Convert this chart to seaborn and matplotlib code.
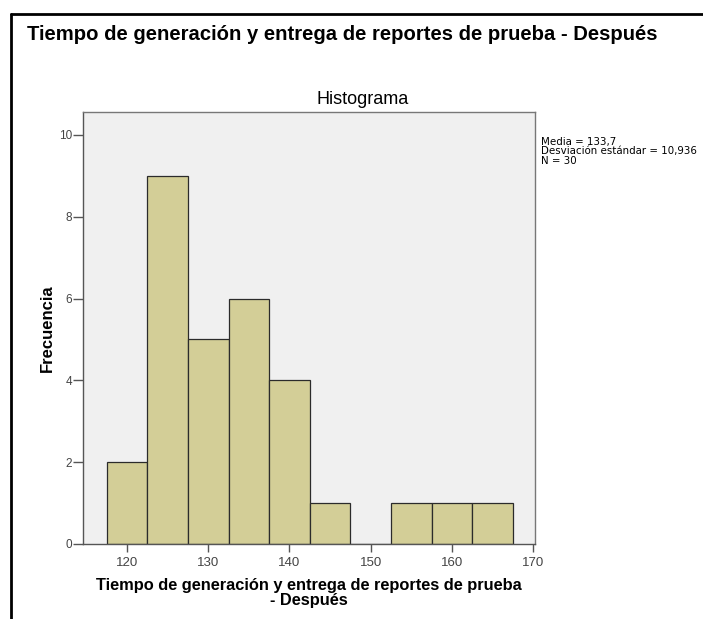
import numpy as np
import pandas as pd
import matplotlib
matplotlib.use("Agg")
import matplotlib.pyplot as plt
import seaborn as sns

# bin centres (width 5) and frequencies
bin_centers = [120, 125, 130, 135, 140, 145, 150, 155, 160, 165]
frequencies = [2, 9, 5, 6, 4, 1, 0, 1, 1, 1]
bin_width = 5
x_ticks = [120, 130, 140, 150, 160, 170]
y_ticks = [0, 2, 4, 6, 8, 10]
stats_lines = ["Media = 133,7", "Desviación estándar = 10,936", "N = 30"]

df = pd.DataFrame({"valor": bin_centers, "freq": frequencies})

sns.set_style("white")
plt.rcParams['font.family'] = ['Liberation Sans', 'DejaVu Sans']
plt.rcParams['text.color'] = 'black'
plt.rcParams['axes.labelcolor'] = 'black'

fig = plt.figure(figsize=(7.03, 6.19), dpi=100)
ax = fig.add_axes([83 / 703, 1 - 544 / 619, (535 - 83) / 703, (544 - 112) / 619])
ax.set_facecolor('#f0f0f0')

sns.histplot(data=df, x="valor", weights="freq", binwidth=bin_width,
             binrange=(bin_centers[0] - bin_width / 2, bin_centers[-1] + bin_width / 2),
             color='#d3ce97', edgecolor='#2b2b2b', linewidth=0.9, alpha=1, ax=ax)

ax.set_xlim(114.6, 170.2)
ax.set_ylim(0, 10.56)
ax.set_xticks(x_ticks)
ax.set_yticks(y_ticks)
ax.tick_params(axis='x', direction='out', length=6, width=1, color='#555555',
               labelsize=9.5, labelcolor='#444444', pad=3, bottom=True)
ax.tick_params(axis='y', direction='out', length=7, width=1, color='#555555',
               labelsize=8.5, labelcolor='#444444', pad=1, left=True)
for s in ax.spines.values():
    s.set_color('#777777')
    s.set_linewidth(1)
ax.spines['left'].set_color('#555555')
ax.spines['bottom'].set_color('#555555')

ax.set_xlabel("Tiempo de generación y entrega de reportes de prueba\n- Después",
              fontsize=11.8, fontweight='bold', labelpad=7, linespacing=1.0)
ax.set_ylabel("Frecuencia", fontsize=12, fontweight='bold', labelpad=3)

fig.text(27 / 703, 1 - 34 / 619, "Tiempo de generación y entrega de reportes de prueba - Después",
         fontsize=14.6, fontweight='bold', ha='left', va='center')
fig.text(363 / 703, 1 - 100 / 619, "Histograma", fontsize=13, ha='center', va='center')
fig.text(541 / 703, 1 - 137 / 619, "\n".join(stats_lines), fontsize=7.4, family='DejaVu Sans',
         ha='left', va='top', linespacing=0.92)

# outer frame of the output block
fig.add_artist(plt.Line2D([11 / 703, 11 / 703], [0, 1 - 14 / 619], color='black', lw=2,
                          transform=fig.transFigure))
fig.add_artist(plt.Line2D([11 / 703, 1], [1 - 14 / 619, 1 - 14 / 619], color='black', lw=2,
                          transform=fig.transFigure))

plt.savefig("out.png", dpi=100)
